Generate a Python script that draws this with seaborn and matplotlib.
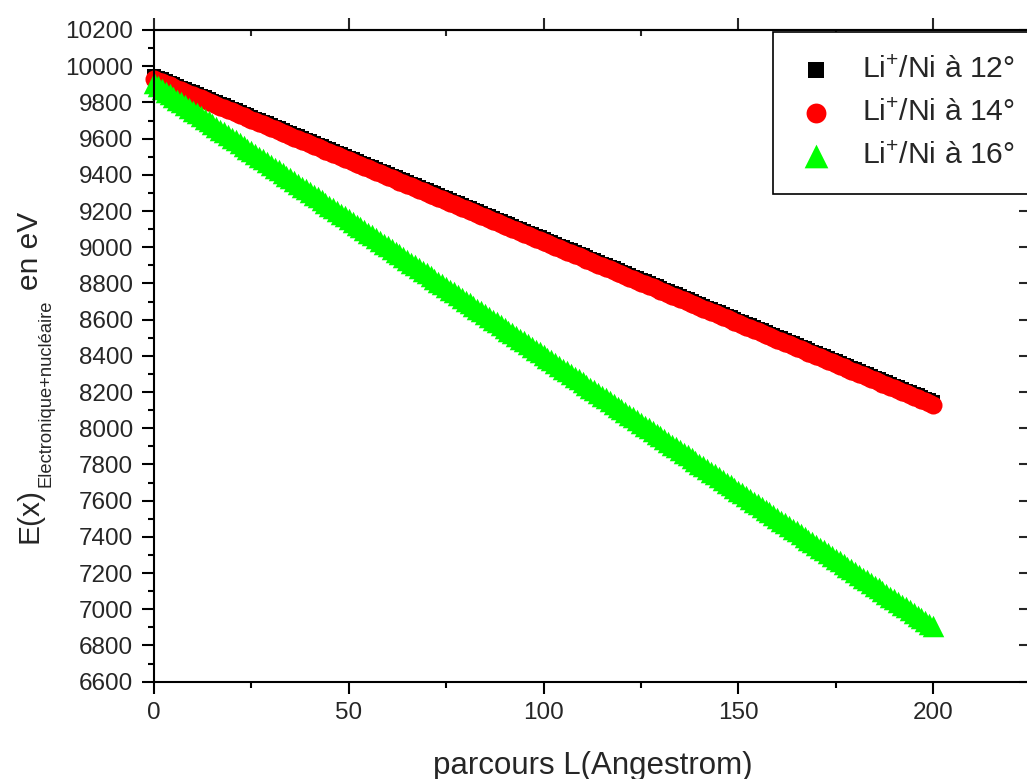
import numpy as np
import pandas as pd
import matplotlib
matplotlib.use("Agg")
import matplotlib.pyplot as plt
from matplotlib.ticker import MultipleLocator, NullFormatter
import seaborn as sns

# Path length (Angstrom), one sample per Angstrom
parcours = np.arange(0, 201)

# Energy E(x) in eV, electronic + nuclear losses, Li+ in Ni
energie_12 = [
    9945, 9936, 9927, 9918, 9909, 9900, 9891, 9882, 9873, 9864,
    9855, 9846, 9837, 9828, 9819, 9810, 9801, 9792, 9783, 9774,
    9765, 9756, 9747, 9738, 9729, 9720, 9711, 9702, 9693, 9684,
    9675, 9666, 9657, 9648, 9639, 9630, 9621, 9612, 9603, 9594,
    9585, 9576, 9567, 9558, 9549, 9540, 9531, 9522, 9513, 9504,
    9495, 9486, 9477, 9468, 9459, 9450, 9441, 9432, 9423, 9414,
    9405, 9396, 9387, 9378, 9369, 9360, 9351, 9342, 9333, 9324,
    9315, 9306, 9297, 9288, 9279, 9270, 9261, 9252, 9243, 9234,
    9225, 9216, 9207, 9198, 9189, 9180, 9171, 9162, 9153, 9144,
    9135, 9126, 9117, 9108, 9099, 9090, 9081, 9072, 9063, 9054,
    9045, 9036, 9027, 9018, 9009, 9000, 8991, 8982, 8973, 8964,
    8955, 8946, 8937, 8928, 8919, 8910, 8901, 8892, 8883, 8874,
    8865, 8856, 8847, 8838, 8829, 8820, 8811, 8802, 8793, 8784,
    8775, 8766, 8757, 8748, 8739, 8730, 8721, 8712, 8703, 8694,
    8685, 8676, 8667, 8658, 8649, 8640, 8631, 8622, 8613, 8604,
    8595, 8586, 8577, 8568, 8559, 8550, 8541, 8532, 8523, 8514,
    8505, 8496, 8487, 8478, 8469, 8460, 8451, 8442, 8433, 8424,
    8415, 8406, 8397, 8388, 8379, 8370, 8361, 8352, 8343, 8334,
    8325, 8316, 8307, 8298, 8289, 8280, 8271, 8262, 8253, 8244,
    8235, 8226, 8217, 8208, 8199, 8190, 8181, 8172, 8163, 8154,
    8145,
]

energie_14 = [
    9930, 9921, 9912, 9903, 9894, 9885, 9876, 9867, 9858, 9849,
    9840, 9831, 9822, 9813, 9804, 9795, 9786, 9777, 9768, 9759,
    9750, 9741, 9732, 9723, 9714, 9705, 9696, 9687, 9678, 9669,
    9660, 9651, 9642, 9633, 9624, 9615, 9606, 9597, 9588, 9579,
    9570, 9561, 9552, 9543, 9534, 9525, 9516, 9507, 9498, 9489,
    9480, 9471, 9462, 9453, 9444, 9435, 9426, 9417, 9408, 9399,
    9390, 9381, 9372, 9363, 9354, 9345, 9336, 9327, 9318, 9309,
    9300, 9291, 9282, 9273, 9264, 9255, 9246, 9237, 9228, 9219,
    9210, 9201, 9192, 9183, 9174, 9165, 9156, 9147, 9138, 9129,
    9120, 9111, 9102, 9093, 9084, 9075, 9066, 9057, 9048, 9039,
    9030, 9021, 9012, 9003, 8994, 8985, 8976, 8967, 8958, 8949,
    8940, 8931, 8922, 8913, 8904, 8895, 8886, 8877, 8868, 8859,
    8850, 8841, 8832, 8823, 8814, 8805, 8796, 8787, 8778, 8769,
    8760, 8751, 8742, 8733, 8724, 8715, 8706, 8697, 8688, 8679,
    8670, 8661, 8652, 8643, 8634, 8625, 8616, 8607, 8598, 8589,
    8580, 8571, 8562, 8553, 8544, 8535, 8526, 8517, 8508, 8499,
    8490, 8481, 8472, 8463, 8454, 8445, 8436, 8427, 8418, 8409,
    8400, 8391, 8382, 8373, 8364, 8355, 8346, 8337, 8328, 8319,
    8310, 8301, 8292, 8283, 8274, 8265, 8256, 8247, 8238, 8229,
    8220, 8211, 8202, 8193, 8184, 8175, 8166, 8157, 8148, 8139,
    8130,
]

energie_16 = [
    9905, 9890, 9875, 9860, 9845, 9830, 9815, 9800, 9785, 9770,
    9755, 9740, 9725, 9710, 9695, 9680, 9665, 9650, 9635, 9620,
    9605, 9590, 9575, 9560, 9545, 9530, 9515, 9500, 9485, 9470,
    9455, 9440, 9425, 9410, 9395, 9380, 9365, 9350, 9335, 9320,
    9305, 9290, 9275, 9260, 9245, 9230, 9215, 9200, 9185, 9170,
    9155, 9140, 9125, 9110, 9095, 9080, 9065, 9050, 9035, 9020,
    9005, 8990, 8975, 8960, 8945, 8930, 8915, 8900, 8885, 8870,
    8855, 8840, 8825, 8810, 8795, 8780, 8765, 8750, 8735, 8720,
    8705, 8690, 8675, 8660, 8645, 8630, 8615, 8600, 8585, 8570,
    8555, 8540, 8525, 8510, 8495, 8480, 8465, 8450, 8435, 8420,
    8405, 8390, 8375, 8360, 8345, 8330, 8315, 8300, 8285, 8270,
    8255, 8240, 8225, 8210, 8195, 8180, 8165, 8150, 8135, 8120,
    8105, 8090, 8075, 8060, 8045, 8030, 8015, 8000, 7985, 7970,
    7955, 7940, 7925, 7910, 7895, 7880, 7865, 7850, 7835, 7820,
    7805, 7790, 7775, 7760, 7745, 7730, 7715, 7700, 7685, 7670,
    7655, 7640, 7625, 7610, 7595, 7580, 7565, 7550, 7535, 7520,
    7505, 7490, 7475, 7460, 7445, 7430, 7415, 7400, 7385, 7370,
    7355, 7340, 7325, 7310, 7295, 7280, 7265, 7250, 7235, 7220,
    7205, 7190, 7175, 7160, 7145, 7130, 7115, 7100, 7085, 7070,
    7055, 7040, 7025, 7010, 6995, 6980, 6965, 6950, 6935, 6920,
    6905,
]

series_labels = [r"Li$^{+}$/Ni à 12°", r"Li$^{+}$/Ni à 14°", r"Li$^{+}$/Ni à 16°"]
y_ticks = list(range(6600, 10201, 200))
x_ticks = [0, 50, 100, 150, 200]

sns.set_style("ticks")
plt.rcParams["font.family"] = ["Liberation Sans", "DejaVu Sans"]
plt.rcParams["mathtext.fontset"] = "custom"
plt.rcParams["mathtext.rm"] = "Liberation Sans"
plt.rcParams["mathtext.it"] = "Liberation Sans:italic"
plt.rcParams["mathtext.bf"] = "Liberation Sans:bold"

W, H = 1027, 779
fig = plt.figure(figsize=(W / 100, H / 100), dpi=100)
ax = fig.add_axes([154 / W, (H - 681.7) / H, 876.5 / W, 651.7 / H])

styles = [
    dict(marker="s", color="#000000", s=10.0 ** 2),
    dict(marker="o", color="#FF0000", s=13.0 ** 2),
    dict(marker="^", color="#00FF00", s=15.5 ** 2),
]
for values, label, st in zip([energie_12, energie_14, energie_16], series_labels, styles):
    df = pd.DataFrame({"L": parcours, "E": values})
    sns.scatterplot(data=df, x="L", y="E", ax=ax, marker=st["marker"],
                    color=st["color"], s=st["s"], linewidth=0, label=label,
                    clip_on=False)

ax.set_xlim(0, 225)
ax.set_ylim(6600, 10200)
ax.set_xlabel("")
ax.set_ylabel("")

lw = 1.5
for sp in ax.spines.values():
    sp.set_linewidth(lw)
    sp.set_color("black")

ax.set_xticks(x_ticks)
ax.xaxis.set_minor_locator(MultipleLocator(25))
ax.set_yticks(y_ticks)
ax.yaxis.set_minor_locator(MultipleLocator(100))
ax.tick_params(which="both", top=False, right=False, direction="out",
               width=lw, color="black", labelsize=17.5)
ax.tick_params(which="major", length=8.5)
ax.tick_params(which="minor", length=4)
ax.tick_params(axis="x", which="major", pad=6)
ax.tick_params(axis="y", which="major", pad=6.5)

# Mirrored axes: top (major out, minor in), right (major in, minor out)
top = ax.secondary_xaxis("top")
top.xaxis.set_major_locator(MultipleLocator(50))
top.xaxis.set_minor_locator(MultipleLocator(25))
top.xaxis.set_major_formatter(NullFormatter())
top.tick_params(which="major", direction="out", length=8.5, width=lw)
top.tick_params(which="minor", direction="in", length=4, width=lw)
top.spines["top"].set_linewidth(lw)

right = ax.secondary_yaxis("right")
right.yaxis.set_major_locator(MultipleLocator(200))
right.yaxis.set_minor_locator(MultipleLocator(100))
right.yaxis.set_major_formatter(NullFormatter())
right.tick_params(which="major", direction="in", length=8.5, width=lw)
right.tick_params(which="minor", direction="out", length=4, width=lw)
right.spines["right"].set_linewidth(lw)

# x axis title
fig.text(593 / W, 5 / H, "parcours L(Angestrom)", fontsize=22.5,
         ha="center", va="baseline")

# y axis title, written piece by piece (main text, subscript, unit)
renderer = fig.canvas.get_renderer()
pieces = [("E(x)", 21.5, 38, 1), ("Electronique+nucléaire", 13.2, 50, 9),
          ("en eV", 21.5, 38, 0)]
ypos = H - 543
for txt, fs, base_x, gap in pieces:
    t = fig.text(base_x / W, ypos / H, txt, fontsize=fs, rotation=90,
                 rotation_mode="anchor", ha="left", va="baseline")
    ext = t.get_window_extent(renderer)
    ypos += ext.height + gap

leg = ax.legend(loc="upper left", bbox_to_anchor=(773 / W, 1 - 32 / H),
                bbox_transform=fig.transFigure, fontsize=21.7, frameon=True,
                fancybox=False, shadow=False, borderaxespad=0, borderpad=0.78,
                labelspacing=0.51, handlelength=1.31, handletextpad=0.87,
                markerscale=1.1)
frame = leg.get_frame()
frame.set_edgecolor("black")
frame.set_linewidth(1.2)
frame.set_facecolor("white")
frame.set_alpha(1)

fig.savefig("out.png", dpi=100)
